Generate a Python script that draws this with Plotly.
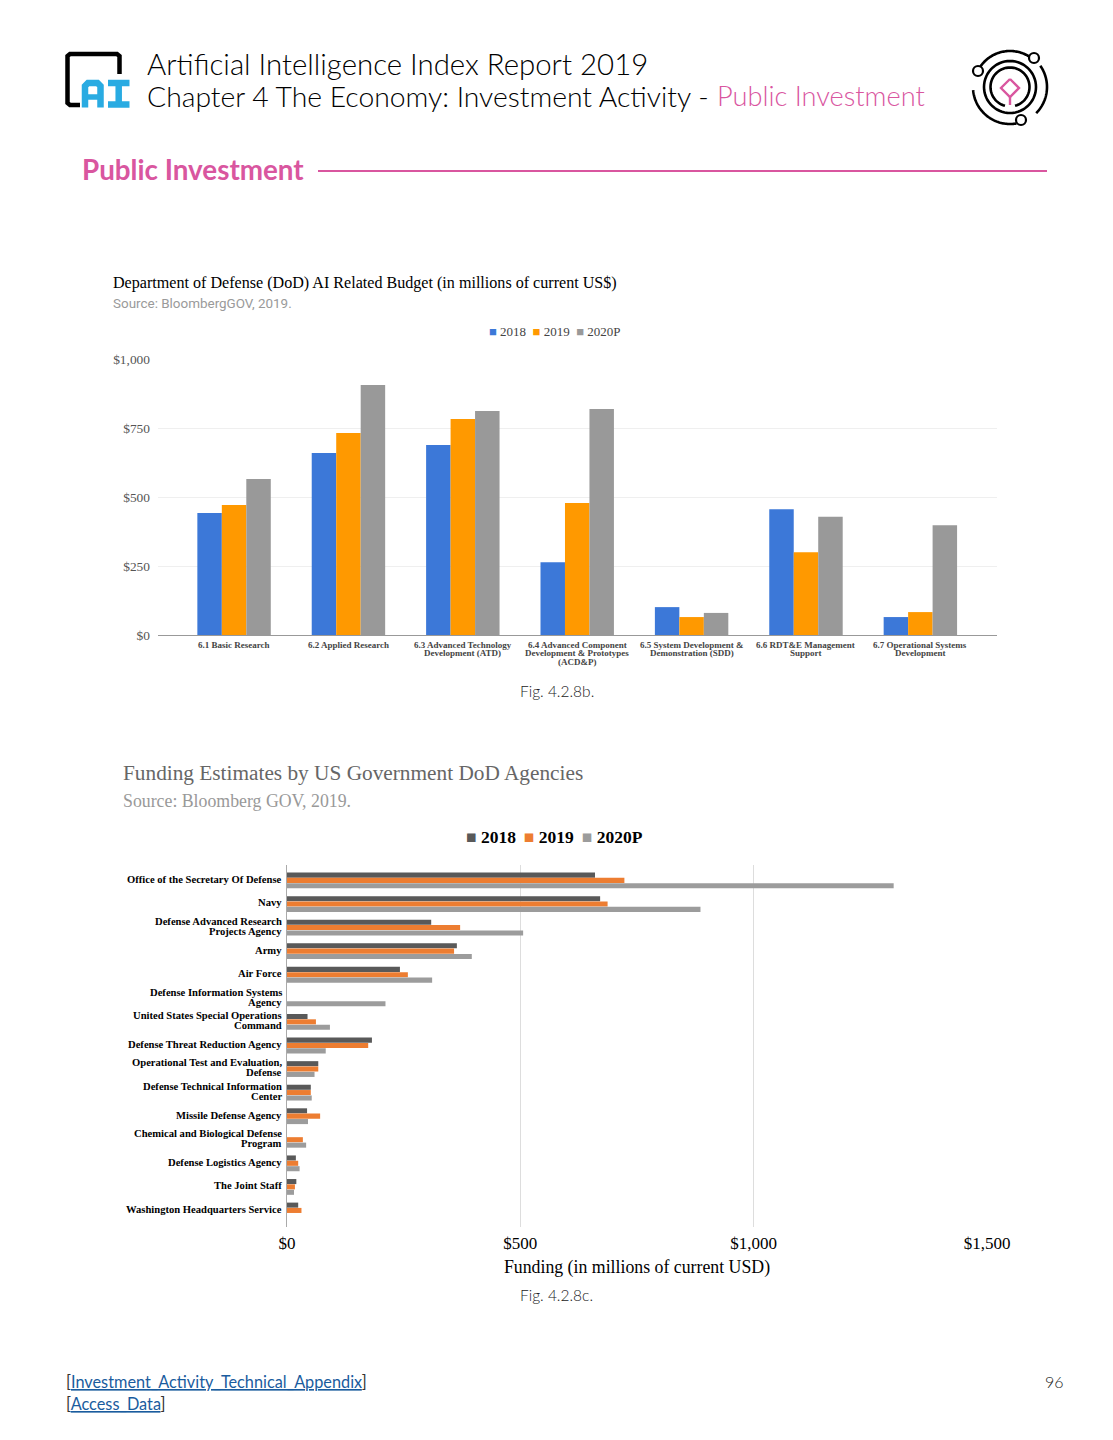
import math
import plotly.graph_objects as go

W, H = 1113, 1440
PINK = "#d9569f"
SERIF = "Liberation Serif"
SANS = "Lato"

programs = ["6.1 Basic Research", "6.2 Applied Research",
            "6.3 Advanced Technology<br>Development (ATD)",
            "6.4 Advanced Component<br>Development & Prototypes<br>(ACD&P)",
            "6.5 System Development &<br>Demonstration (SDD)",
            "6.6 RDT&E Management<br>Support",
            "6.7 Operational Systems<br>Development"]
budget_2018 = [442, 659, 688, 264, 101, 456, 65]
budget_2019 = [471, 732, 783, 478, 65, 300, 83]
budget_2020 = [565, 906, 812, 819, 80, 428, 398]

agencies = ["Office of the Secretary Of Defense", "Navy",
            "Defense Advanced Research<br>Projects Agency", "Army", "Air Force",
            "Defense Information Systems<br>Agency",
            "United States Special Operations<br>Command",
            "Defense Threat Reduction Agency",
            "Operational Test and Evaluation,<br>Defense",
            "Defense Technical Information<br>Center",
            "Missile Defense Agency",
            "Chemical and Biological Defense<br>Program",
            "Defense Logistics Agency", "The Joint Staff",
            "Washington Headquarters Service"]
funding_2018 = [660, 671, 309, 364, 242, 0, 44, 182, 67, 51, 43, 0, 19, 20, 24]
funding_2019 = [723, 687, 371, 358, 259, 0, 62, 174, 67, 51, 71, 34, 24, 17, 31]
funding_2020 = [1300, 886, 506, 396, 311, 211, 92, 83, 59, 53, 45, 41, 27, 15, 0]

fig = go.Figure()

for name, vals, col, off in [("2018", budget_2018, "#3c78d8", -0.321),
                             ("2019", budget_2019, "#ff9900", -0.107),
                             ("2020P", budget_2020, "#999999", 0.107)]:
    fig.add_trace(go.Bar(x=programs, y=vals, name=name, width=0.214, offset=off,
                         marker=dict(color=col, line=dict(width=0)),
                         xaxis="x", yaxis="y", showlegend=False))

for name, vals, col, off in [("2018", funding_2018, "#595959", -0.315),
                             ("2019", funding_2019, "#ed7d31", -0.09),
                             ("2020P", funding_2020, "#9c9c9c", 0.14)]:
    fig.add_trace(go.Bar(y=agencies, x=vals, name=name, orientation="h",
                         width=0.215, offset=off,
                         marker=dict(color=col, line=dict(width=0)),
                         xaxis="x2", yaxis="y2", showlegend=False))


def X(x):
    return x / W


def Y(y):
    return 1 - y / H


def text(x, y, s, size, color="#000000", family=SANS, anchor="left", weight="normal"):
    return dict(text=s, x=X(x), y=Y(y), xref="paper", yref="paper", xanchor=anchor,
                yanchor="middle", showarrow=False, align=anchor, borderpad=0,
                font=dict(size=size, color=color, family=family, weight=weight))


def poly(points):
    return "M" + " L".join(f"{X(a):.5f},{Y(b):.5f}" for a, b in points)


def arc(cx, cy, r, start, end, n=60):
    return poly([(cx + r * math.cos(math.radians(start + (end - start) * i / n)),
                  cy + r * math.sin(math.radians(start + (end - start) * i / n)))
                 for i in range(n + 1)])


def stroke(path, color="#000000", width=3):
    return dict(type="path", path=path, xref="paper", yref="paper",
                line=dict(color=color, width=width), fillcolor="rgba(0,0,0,0)")


def ring(cx, cy, r, width=2.2):
    return dict(type="circle", xref="paper", yref="paper", x0=X(cx - r), x1=X(cx + r),
                y0=Y(cy + r), y1=Y(cy - r), line=dict(color="#000000", width=width),
                fillcolor="white")


CYAN = "#29abe2"
shapes = [
    # AI logo
    stroke(poly([(80, 105), (70, 105), (67.5, 103), (67.5, 56), (70, 54),
                 (117, 54), (119.5, 56), (119.5, 74)]), width=4.5),
    stroke(poly([(85, 107.5), (85, 86), (88, 83), (97.5, 83), (100.5, 86), (100.5, 107.5)]),
           color=CYAN, width=6.5),
    stroke(poly([(85, 97), (100.5, 97)]), color=CYAN, width=5.5),
    stroke(poly([(108, 83), (129.5, 83)]), color=CYAN, width=6.5),
    stroke(poly([(118.7, 83), (118.7, 104.5)]), color=CYAN, width=6.5),
    stroke(poly([(108, 104.5), (129.5, 104.5)]), color=CYAN, width=6.5),
    # Orbit icon
    stroke(arc(1010, 87, 37, -35, 45), width=2.6),
    stroke(arc(1010, 87, 37, 80, 175), width=2.6),
    stroke(arc(1010, 87, 36, 200, 305), width=2.6),
    stroke(arc(1010, 87, 26, 0, 360), width=2.6),
    stroke(arc(1010, 87, 19.5, 105, 435), width=2.6),
    ring(1034, 58, 5), ring(978, 71, 5), ring(1021, 120, 5),
    stroke(poly([(1010, 79), (1019, 88), (1010, 97), (1001, 88), (1010, 79)]),
           color=PINK, width=2.4),
    stroke(poly([(1010, 97), (1010, 105)]), color=PINK, width=2.4),
    # Section rule
    stroke(poly([(318, 171), (1047, 171)]), color=PINK, width=2),
]


def swatches(colors, labels, gap):
    return gap.join(f'<span style="color:{c}">■</span> {l}' for c, l in zip(colors, labels))


annotations = [
    text(146, 64, "Artificial Intelligence Index Report 2019", 29.4, weight=300),
    text(146, 95.5, "Chapter 4 The Economy: Investment Activity -", 28.3, weight=300),
    text(716, 96, "Public Investment", 27.2, color=PINK, weight=300),
    text(81, 169, "Public Investment", 27.8, color=PINK, weight="bold"),
    text(112, 283, "Department of Defense (DoD) AI Related Budget (in millions of current US$)",
         16.1, family=SERIF),
    text(112, 303, "Source: BloombergGOV, 2019.", 13.45, color="#9a9a9a", family="Roboto"),
    text(555, 331.5, swatches(["#3c78d8", "#ff9900", "#999999"], ["2018", "2019", "2020P"], "  "),
         13, color="#444444", family=SERIF, anchor="center"),
    text(556.5, 691, "Fig. 4.2.8b.", 15.5, color="#222222", anchor="center", weight=300),
    text(121.5, 773, "Funding Estimates by US Government DoD Agencies", 21.3, color="#666666",
         family=SERIF),
    text(121.5, 801, "Source: Bloomberg GOV, 2019.", 17.8, color="#999999", family=SERIF),
    text(554.5, 836.5, swatches(["#595959", "#ed7d31", "#9c9c9c"], ["2018", "2019", "2020P"], " \u2009"),
         17.5, family=SERIF, anchor="center", weight="bold"),
    text(556.5, 1295, "Fig. 4.2.8c.", 15.5, color="#222222", anchor="center", weight=300),
    text(64.5, 1381, '[<span style="color:#1a5c9e"><u>Investment_Activity_Technical_Appendix</u></span>]',
         16.3, color="#333333"),
    text(64.5, 1403, '[<span style="color:#1a5c9e"><u>Access_Data</u></span>]', 16.3, color="#333333"),
    text(1065, 1381, "96", 16, color="#222222", anchor="right", weight=300),
]

# Category labels keep the reference's tight line spacing, one text per line,
# each tied to its category through the axes.
for cat in programs:
    for i, line in enumerate(cat.split("<br>")):
        annotations.append(dict(text=line, x=cat, y=0, xref="x", yref="y", xanchor="center",
                                yanchor="middle", yshift=-(9.5 + 8.5 * i), showarrow=False,
                                borderpad=0,
                                font=dict(size=9, color="#444444", family=SERIF, weight="bold")))
for cat in agencies:
    lines = cat.split("<br>")
    for i, line in enumerate(lines):
        annotations.append(dict(text=line, x=0, y=cat, xref="x2", yref="y2", xanchor="right",
                                yanchor="middle", xshift=-4.5,
                                yshift=(len(lines) - 1) * 5 - 10 * i + 0.7, showarrow=False,
                                borderpad=0,
                                font=dict(size=10.6, color="#000000", family=SERIF, weight="bold")))

fig.update_layout(
    template="none",
    width=W, height=H, autosize=False,
    margin=dict(l=0, r=0, t=0, b=0, pad=0),
    paper_bgcolor="white", plot_bgcolor="white",
    barmode="overlay",
    shapes=shapes, annotations=annotations,
    font=dict(family=SERIF),
    xaxis=dict(domain=[X(158), X(997)], anchor="y", range=[-0.665, 6.67], showticklabels=False,
               automargin=False, showgrid=False, showline=True, linecolor="#999999",
               linewidth=1, ticks="", zeroline=False),
    yaxis=dict(domain=[Y(635), Y(359)], anchor="x", range=[0, 1000],
               tickvals=[0, 250, 500, 750, 1000], automargin=False,
               ticktext=["$0", "$250", "$500", "$750", "$1,000"], showgrid=True,
               gridcolor="#efefef", gridwidth=1, zeroline=False, ticks="", ticklabelstandoff=7,
               tickfont=dict(size=13.4, color="#555555", family=SERIF)),
    xaxis2=dict(domain=[X(287), X(987)], anchor="y2", range=[0, 1500], automargin=False,
                tickvals=[0, 500, 1000, 1500], ticktext=["$0", "$500", "$1,000", "$1,500"],
                showgrid=True, gridcolor="#dddddd", gridwidth=1, zeroline=False, ticks="",
                showline=False, tickangle=0, ticklabelstandoff=4,
                tickfont=dict(size=17, color="#000000", family=SERIF),
                title=dict(text="Funding (in millions of current USD)", standoff=8,
                           font=dict(size=17.8, color="#000000", family=SERIF))),
    yaxis2=dict(domain=[Y(1227), Y(865)], anchor="x2", range=[14.72, -0.636], automargin=False,
                showgrid=False, showline=True, linecolor="#aaaaaa", linewidth=1, ticks="",
                zeroline=False, showticklabels=False),
)

fig.write_html("out.html", config=dict(displayModeBar=False),
               post_script="document.body.style.margin='0';")
